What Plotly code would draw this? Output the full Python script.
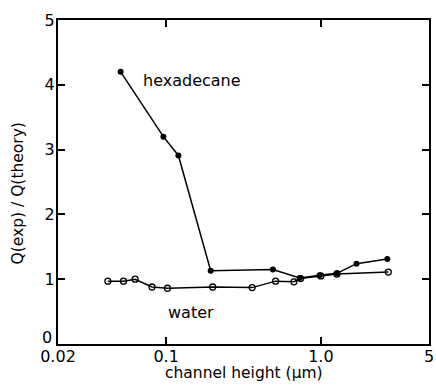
import plotly.graph_objects as go

# Data
hex_x = [0.0508, 0.096, 0.12, 0.194, 0.49, 0.73, 0.98, 1.27, 1.7, 2.69]
hex_y = [4.2, 3.2, 2.91, 1.13, 1.15, 1.02, 1.06, 1.09, 1.24, 1.31]

water_x = [0.042, 0.053, 0.063, 0.081, 0.102, 0.2, 0.36, 0.51, 0.67, 0.74, 1.0, 1.27, 2.73]
water_y = [0.97, 0.97, 1.0, 0.88, 0.86, 0.88, 0.87, 0.97, 0.96, 1.01, 1.05, 1.08, 1.11]

x_tickvals = [0.02, 0.1, 1.0, 5]
x_ticktext = ["0.02", "0.1", "1.0", "5"]
y_tickvals = [0, 1, 2, 3, 4, 5]
y_ticktext = ["", "1", "2", "3", "4", "5"]  # "0" is drawn slightly raised below

x_title = "channel height (µm)"
y_title = "Q(exp) / Q(theory)"

FONT = "DejaVu Sans"

fig = go.Figure()
fig.add_trace(go.Scatter(
    x=water_x, y=water_y, mode="lines+markers", name="water",
    line=dict(color="black", width=1.5),
    marker=dict(symbol="circle-open", size=6, color="black", line=dict(width=1.3)),
))
fig.add_trace(go.Scatter(
    x=hex_x, y=hex_y, mode="lines+markers", name="hexadecane",
    line=dict(color="black", width=1.5),
    marker=dict(symbol="circle", size=6, color="black"),
))

fig.add_annotation(x=-1.16, y=4.07, xref="x", yref="y", text="hexadecane",
                   showarrow=False, xanchor="left", yanchor="middle",
                   font=dict(family=FONT, size=16, color="black"))
fig.add_annotation(x=-1.0, y=0.48, xref="x", yref="y", text="water",
                   showarrow=False, xanchor="left", yanchor="middle",
                   font=dict(family=FONT, size=16, color="black"))

# raised "0" tick label on the y axis
fig.add_annotation(x=(54 - 58) / 371, y=(344 - 337) / 324, xref="paper", yref="paper",
                   text="0", showarrow=False, xanchor="right", yanchor="middle",
                   font=dict(family=FONT, size=16, color="black"))

# axis titles placed as paper annotations (plot area: x 58..429, y 20..344 px)
fig.add_annotation(x=0.5, y=(344 - 373) / 324, xref="paper", yref="paper",
                   text=x_title, showarrow=False, xanchor="center", yanchor="middle",
                   font=dict(family=FONT, size=15.5, color="black"))
fig.add_annotation(x=(17.5 - 58) / 371, y=(344 - 194) / 324, xref="paper", yref="paper",
                   text=y_title, textangle=-90, showarrow=False,
                   xanchor="center", yanchor="middle",
                   font=dict(family=FONT, size=15.5, color="black"))

fig.update_xaxes(
    type="log", range=[-1.69897, 0.69897],
    tickvals=x_tickvals, ticktext=x_ticktext,
    ticks="inside", ticklen=7, tickwidth=2, tickcolor="black",
    showline=True, linewidth=2, linecolor="black", mirror="ticks",
    showgrid=False, zeroline=False, automargin=False,
    ticklabelstandoff=-3,
    tickfont=dict(family=FONT, size=16, color="black"),
)
fig.update_yaxes(
    range=[0, 5], tickvals=y_tickvals, ticktext=y_ticktext,
    ticks="inside", ticklen=7, tickwidth=2, tickcolor="black",
    showline=True, linewidth=2, linecolor="black", mirror="ticks",
    showgrid=False, zeroline=False, automargin=False,
    ticklabelstandoff=-2,
    tickfont=dict(family=FONT, size=16, color="black"),
)

fig.update_layout(
    width=436, height=391,
    margin=dict(l=58, r=7, t=20, b=47, autoexpand=False),
    paper_bgcolor="white", plot_bgcolor="white",
    showlegend=False,
)

fig.write_html("out.html", config={"displayModeBar": False},
               post_script="document.body.style.margin='0';")
